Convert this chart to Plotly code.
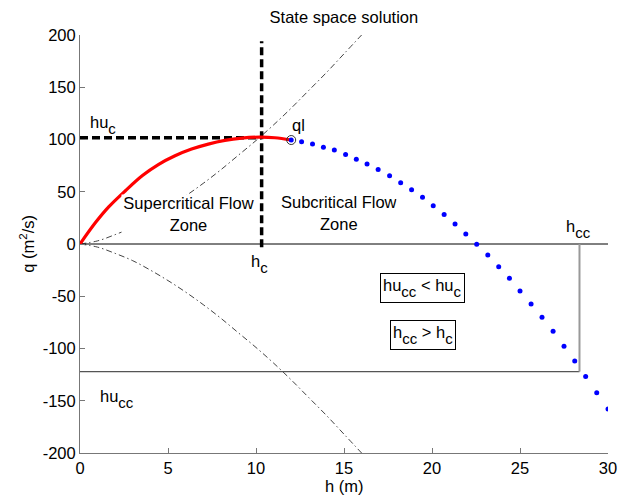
import plotly.graph_objects as go

# ---- data ----
# supercritical branch (red solid)
h_super = [0, 0.88, 1.63, 2.58, 3.55, 4.45, 5.4, 6.34, 7.29, 8.23, 9.18, 10.22, 11.07, 12.0]
q_super = [0, 20.5, 35.5, 51, 65.5, 76, 84.4, 90.8, 95.6, 99.1, 101.3, 102.3, 101.7, 99.5]

# subcritical branch (blue dotted)
h_sub = [12.0, 12.59, 13.21, 13.83, 14.45, 15.09, 15.70, 16.31, 16.94, 17.59, 18.22, 18.84,
         19.46, 20.07, 20.69, 21.31, 21.92, 22.54, 23.17, 23.79, 24.40, 25.00, 25.63,
         26.25, 26.88, 27.50, 28.11, 28.73, 29.36, 30.00]
q_sub = [99.5, 97.8, 95.6, 92.7, 89.9, 85.6, 81.0, 76.5, 71.4, 65.2, 58.6, 51.9,
         44.7, 36.5, 28.2, 19.1, 9.6, -0.3, -10.5, -21.7, -32.8, -44.9, -57.4,
         -70.1, -83.5, -97.8, -111.9, -126.9, -142.4, -158.0]

# critical-flow lines (dash-dot)
h_crit = [0, 1, 2, 3, 4, 5, 6, 7, 8, 9, 10, 11, 12, 13, 14, 15, 16]
q_crit_up = [0, 3, 9, 16, 25, 35, 46, 58, 71, 85, 99, 114, 130, 147, 164, 182, 200]
q_crit_dn = [0, -3, -9, -16, -25, -35, -46, -58, -71, -85, -99, -114, -130, -147, -164, -182, -200]

# reference values
h_c = 10.32
hu_c = 101.6
h_cc = 28.38
hu_cc = -122.1
h_max = 30
ql_h, ql_q = 12.0, 99.5
vline_top = 194

x_ticks = [0, 5, 10, 15, 20, 25, 30]
y_ticks = [-200, -150, -100, -50, 0, 50, 100, 150, 200]
y_tick_text = ["-200", "-150", "-100", "-50", "0", "50", "100", "150", "200"]

FONT = "Liberation Sans, Arial, sans-serif"
FS = 16.5


def sub(s):
    return '<sub><sub><span style="font-size:15px">' + s + '</span></sub></sub>'


fig = go.Figure()

dashdot = "6px,3px,1.5px,3px"
fig.add_trace(go.Scatter(x=h_crit, y=q_crit_up, mode="lines", line=dict(color="#444", width=1, dash=dashdot, shape="spline")))
fig.add_trace(go.Scatter(x=h_crit, y=q_crit_dn, mode="lines", line=dict(color="#444", width=1, dash=dashdot, shape="spline")))

# zero line and hu_cc / h_cc lines
fig.add_trace(go.Scatter(x=[0, h_max], y=[0, 0], mode="lines", line=dict(color="black", width=1)))
fig.add_trace(go.Scatter(x=[0, h_cc], y=[hu_cc, hu_cc], mode="lines", line=dict(color="#555", width=1.2)))
fig.add_trace(go.Scatter(x=[h_cc, h_cc], y=[0, hu_cc], mode="lines", line=dict(color="#999", width=2)))

# critical dashed lines
fig.add_trace(go.Scatter(x=[0, h_c], y=[hu_c, hu_c], mode="lines", line=dict(color="black", width=3.5, dash="8px,4px")))
fig.add_trace(go.Scatter(x=[h_c, h_c], y=[-3, vline_top], mode="lines", line=dict(color="black", width=3.5, dash="8px,4px")))

# branches
fig.add_trace(go.Scatter(x=h_super, y=q_super, mode="lines", line=dict(color="#ff0000", width=3.2, shape="spline")))
fig.add_trace(go.Scatter(x=h_sub, y=q_sub, mode="markers", marker=dict(color="#0000ff", size=5, line=dict(width=0))))
fig.add_trace(go.Scatter(x=[ql_h], y=[ql_q], mode="markers",
                         marker=dict(symbol="circle-open", size=9, color="#333", line=dict(width=1))))

ann = []
def A(text, x, y, **kw):
    d = dict(text=text, x=x, y=y, xref="x", yref="y", showarrow=False,
             font=dict(family=FONT, size=FS, color="black"))
    d.update(kw)
    ann.append(d)

A("Supercritical Flow<br>Zone", 6.19, 28.5, bgcolor="white", borderpad=0, height=38, width=133)
A("Subcritical Flow<br>Zone", 14.71, 29.9, bgcolor="white", borderpad=0, height=38)
A("hu" + sub("c"), 0.45, 114.0, xanchor="left")
A("ql", 12.44, 113.8)
A("h" + sub("c"), 10.22, -19.5)
A("h" + sub("cc"), 28.34, 14.0)
A("hu" + sub("cc"), 1.0, -148, xanchor="left")
A("hu" + sub("cc") + " &lt; hu" + sub("c"), 19.48, -42.1, bordercolor="black", borderwidth=1, borderpad=2, bgcolor="white")
A("h" + sub("cc") + " &gt; h" + sub("c"), 19.48, -86.7, bordercolor="black", borderwidth=1, borderpad=2, bgcolor="white")

# axis titles as annotations in paper coords
ann.append(dict(text="h (m)", x=0.5, y=-0.08, xref="paper", yref="paper", xanchor="center", yanchor="middle",
                showarrow=False, font=dict(family=FONT, size=FS, color="black")))
ann.append(dict(text="q (m<sup>2</sup>/s)", x=-0.101, y=0.5, xref="paper", yref="paper", xanchor="center",
                yanchor="middle", textangle=-90, showarrow=False, font=dict(family=FONT, size=FS, color="black")))

fig.update_layout(
    width=631, height=498,
    margin=dict(l=80, r=23, t=35, b=45),
    paper_bgcolor="white", plot_bgcolor="white",
    showlegend=False,
    font=dict(family=FONT, size=FS, color="black"),
    title=dict(text="State space solution", x=0.545, xanchor="center", y=0.965, yanchor="middle",
               font=dict(family=FONT, size=FS, color="black")),
    annotations=ann,
)
fig.update_xaxes(range=[0, 30], tickvals=x_ticks, ticks="inside", ticklen=5, tickcolor="#777",
                 showline=True, linecolor="#777", linewidth=1, showgrid=False, zeroline=False,
                 automargin=False, tickfont=dict(size=FS))
fig.update_yaxes(range=[-200, 200], tickvals=y_ticks, ticktext=y_tick_text, ticks="inside", ticklen=5,
                 tickcolor="#777", showline=True, linecolor="#777", linewidth=1, showgrid=False,
                 zeroline=False, automargin=False, tickfont=dict(size=FS))

fig.write_html("out.html")
